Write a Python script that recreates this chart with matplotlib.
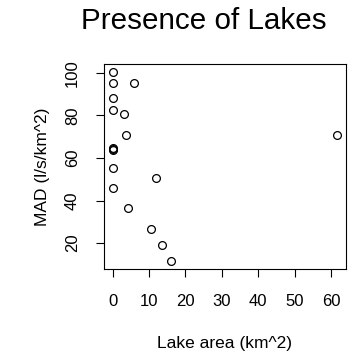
import matplotlib
matplotlib.use("Agg")
import matplotlib.pyplot as plt

plt.rcParams['font.family'] = ['Liberation Sans', 'DejaVu Sans']

lake_area = [0.1, 0.1, 6.0, 0.1, 0.1, 3.2, 3.6, 0.1, 0.1, 0.1, 0.1, 11.9, 0.1, 4.1, 10.6, 13.5, 16.0, 61.6]
mad = [100.5, 95.3, 95.3, 87.9, 82.7, 80.8, 70.6, 64.8, 64.2, 63.5, 55.4, 50.4, 46.1, 36.3, 26.6, 19.3, 11.6, 70.6]
xticks = [0, 10, 20, 30, 40, 50, 60]
yticks = [20, 40, 60, 80, 100]

fig = plt.figure(figsize=(3.56, 3.6), dpi=100)
ax = fig.add_axes([0.291, 0.254, 0.681, 0.568])
ax.plot(lake_area, mad, linestyle='none', marker='o', markersize=5.6,
        markerfacecolor='none', markeredgecolor='black', markeredgewidth=0.9)

xr = max(lake_area) - min(lake_area)
ax.set_xlim(min(lake_area) - 0.04 * xr - 0.1, max(lake_area) + 0.04 * xr)
yr = max(mad) - min(mad)
ax.set_ylim(min(mad) - 0.04 * yr, max(mad) + 0.04 * yr)

ax.set_xticks(xticks)
ax.set_yticks(yticks)
ax.set_yticklabels([str(v) for v in yticks], rotation=90, va='center')
ax.tick_params(direction='out', length=6, width=0.8, labelsize=12, pad=12)
ax.tick_params(axis='y', pad=11)
for s in ax.spines.values():
    s.set_linewidth(0.8)

ax.set_title('Presence of Lakes', fontsize=21.3, pad=25, x=0.414)
ax.set_xlabel('Lake area (km^2)', fontsize=12.5, labelpad=19.5)
ax.set_ylabel('MAD (l/s/km^2)', fontsize=12.5, labelpad=11)

fig.savefig('out.png', dpi=100)
